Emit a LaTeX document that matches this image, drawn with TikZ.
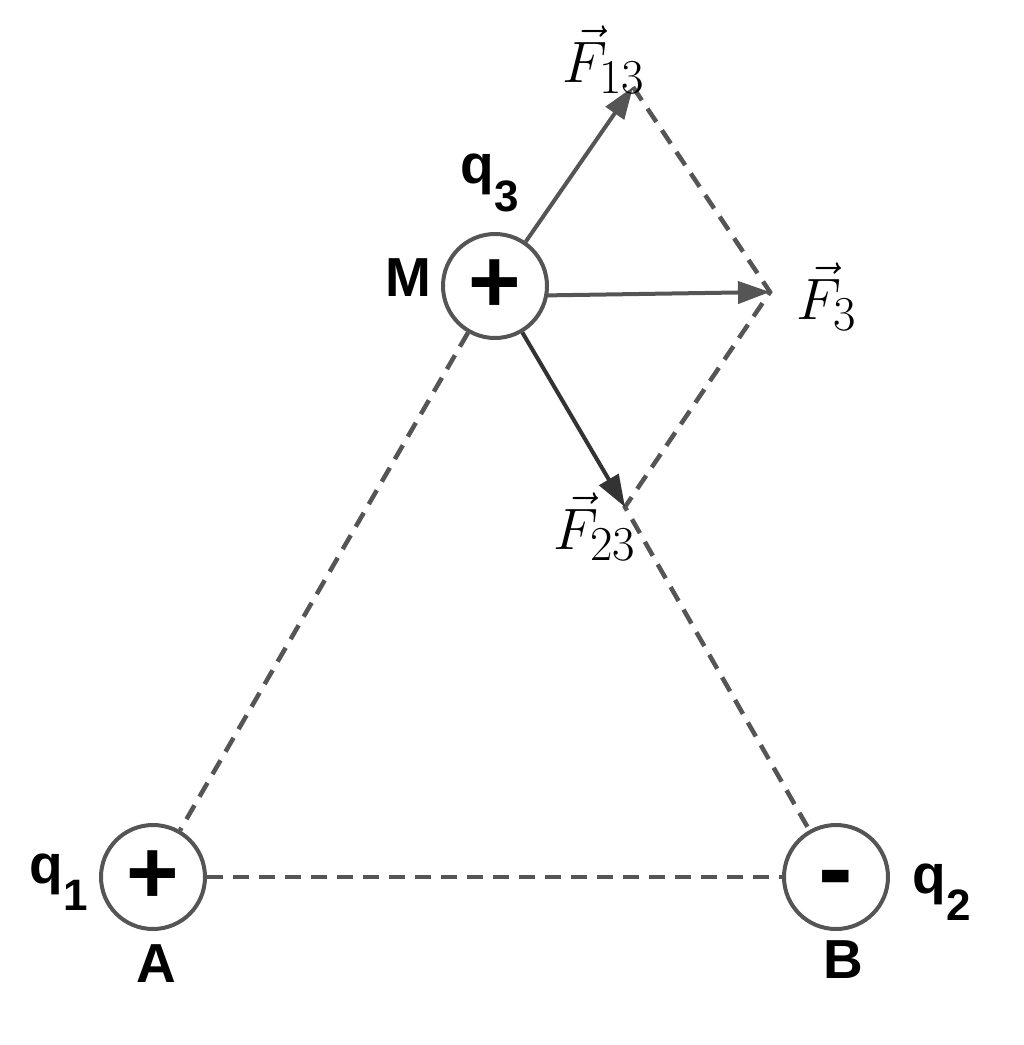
\documentclass[tikz,border=0pt]{standalone}
\usepackage{graphicx}
\usepackage{fontspec}
\setmainfont{Liberation Sans}
\usetikzlibrary{arrows.meta}
\definecolor{linegray}{HTML}{555555}
\definecolor{darkline}{HTML}{333333}
\newcommand{\bigvec}[1]{\scalebox{2.35}{\Huge$#1$}}
\begin{document}
\begin{tikzpicture}[x=1pt,y=-1pt,
  charge/.style={circle,draw=linegray,line width=4pt,minimum size=104pt,inner sep=0pt,
    font=\fontsize{90}{90}\selectfont\bfseries},
  signlbl/.style={font=\fontsize{104}{104}\selectfont\bfseries,inner sep=0pt,yshift=-10pt},
  lbl/.style={font=\fontsize{55}{55}\selectfont\bfseries,inner sep=0pt},
  flbl/.style={inner sep=0pt},
  dashline/.style={draw=linegray,line width=4.5pt,dash pattern=on 16pt off 10pt},
  force/.style={draw=linegray,line width=4pt,-{Triangle[length=32pt,width=22pt]}},
]
\useasboundingbox (0,0) rectangle (1024,1045);
\node[charge] (M) at (495,286) {+};
\node[charge] (A) at (153,877) {+};
\node[charge,label={[signlbl]center:-}] (B) at (836,877) {};
\coordinate (T13) at (633,87);
\coordinate (T3) at (770,292);
\coordinate (T23) at (625,507);
\draw[dashline] (T13) -- (T3) -- (T23) -- (B);
\draw[dashline] (M) -- (A);
\draw[dashline] (A) -- (B);
\draw[force] (M) -- (T13);
\draw[force] (M.-10) -- (T3);
\draw[force,draw=darkline] (M) -- (T23);
\node[lbl] (Ml) at (408,278) {M};
\node[lbl] (q3) at (490,183) {q\raisebox{-0.5em}{\fontsize{44}{44}\selectfont 3}};
\node[lbl] (q1) at (59,882) {q\raisebox{-0.5em}{\fontsize{44}{44}\selectfont 1}};
\node[lbl] (q2) at (942,892) {q\raisebox{-0.5em}{\fontsize{44}{44}\selectfont 2}};
\node[lbl] (Al) at (156,964) {A};
\node[lbl] (Bl) at (843,960) {B};
\node[flbl] (f13) at (604,60) {\bigvec{\vec{F}_{13}}};
\node[flbl] (f3) at (827,297) {\bigvec{\vec{F}_{3}}};
\node[flbl] (f23) at (595,527) {\bigvec{\vec{F}_{23}}};
\end{tikzpicture}
\end{document}
